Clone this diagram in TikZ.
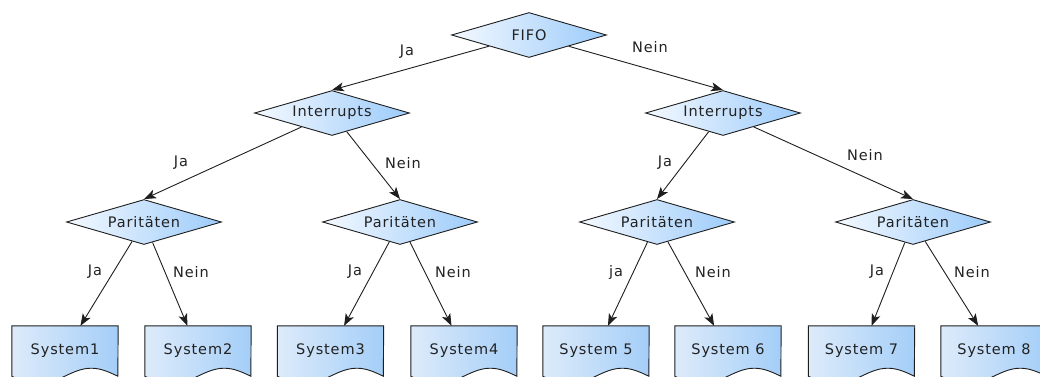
\documentclass[tikz,border=0pt]{standalone}
\usepackage{fontspec}
\setmainfont{DejaVu Sans}[LetterSpace=6]
\usetikzlibrary{shapes.geometric,arrows.meta,backgrounds}

\definecolor{txt}{HTML}{222222}
\definecolor{edge}{HTML}{1E1E1E}
\definecolor{dleft}{HTML}{F4F9FF}
\definecolor{dright}{HTML}{9CCBFA}
\definecolor{sleft}{HTML}{DDEBFA}
\definecolor{sright}{HTML}{A4CEF8}
\newcommand{\lbl}{\fontsize{14.5}{17}\selectfont}

\begin{document}
\begin{tikzpicture}[x=1pt,y=-1pt,
  decision/.style={diamond, draw=edge, line width=0.9pt,
    left color=dleft, right color=dright,
    minimum width=155pt, minimum height=45pt, inner sep=0pt, aspect=3.4,
    text=txt, font=\lbl},
  docbox/.style={rectangle, minimum width=106pt, minimum height=50pt,
    inner sep=0pt, text=txt, font=\lbl},
  docshape/.style={draw=edge, line width=0.9pt, left color=sleft, right color=sright},
  link/.style={draw=edge, line width=0.9pt, -{Stealth[length=12pt,width=9pt,inset=3pt]}},
  answer/.style={text=txt, font=\lbl, inner sep=0pt}]

\useasboundingbox (0,0) rectangle (1040,376);
\clip (0,0) rectangle (1040,376);

% decisions
\node[decision] (fifo) at (529,35)  {FIFO};
\node[decision] (intl) at (332,113) {Interrupts};
\node[decision] (intr) at (723,113) {Interrupts};
\node[decision] (p1)   at (144,222) {Paritäten};
\node[decision] (p2)   at (400,222) {Paritäten};
\node[decision] (p3)   at (657,222) {Paritäten};
\node[decision] (p4)   at (913,222) {Paritäten};

% resulting systems
\node[docbox] (s1) at (65,351)    {System1};
\node[docbox] (s2) at (198,351)   {System2};
\node[docbox] (s3) at (330.5,351) {System3};
\node[docbox] (s4) at (464,351)   {System4};
\node[docbox] (s5) at (596,351)   {System 5};
\node[docbox] (s6) at (728,351)   {System 6};
\node[docbox] (s7) at (861.5,351) {System 7};
\node[docbox] (s8) at (994,351)   {System 8};

% document outlines with a wavy lower edge
\begin{scope}[on background layer]
  \foreach \s in {s1,s2,s3,s4,s5,s6,s7,s8}
    \shade[docshape] (\s.north west) -- (\s.south west)
      sin ++(26.5,8) cos ++(26.5,-8) sin ++(26.5,-8) cos ++(26.5,8)
      -- (\s.north east) -- cycle;
\end{scope}

% connectors
\draw[link] (fifo) -- (intl.north);
\draw[link] (fifo) -- (intr.north);
\draw[link] (intl) -- (p1.north);
\draw[link] (intl) -- (p2.north);
\draw[link] (intr) -- (p3.north);
\draw[link] (intr) -- (p4.north);
\draw[link] (p1) -- (s1);
\draw[link] (p1) -- (s2);
\draw[link] (p2) -- (s3);
\draw[link] (p2) -- (s4);
\draw[link] (p3) -- (s5);
\draw[link] (p3) -- (s6);
\draw[link] (p4) -- (s7);
\draw[link] (p4) -- (s8);

% answers
\node[answer] (a1)  at (407,52)  {Ja};
\node[answer] (a2)  at (650,47)  {Nein};
\node[answer] (a3)  at (181,163) {Ja};
\node[answer] (a4)  at (403,163) {Nein};
\node[answer] (a5)  at (665,163) {Ja};
\node[answer] (a6)  at (865,155) {Nein};
\node[answer] (a7)  at (95,272)  {Ja};
\node[answer] (a8)  at (191,272) {Nein};
\node[answer] (a9)  at (355,272) {Ja};
\node[answer] (a10) at (453,272) {Nein};
\node[answer] (a11) at (616,272) {ja};
\node[answer] (a12) at (713,272) {Nein};
\node[answer] (a13) at (877,272) {Ja};
\node[answer] (a14) at (972,272) {Nein};
\end{tikzpicture}
\end{document}
